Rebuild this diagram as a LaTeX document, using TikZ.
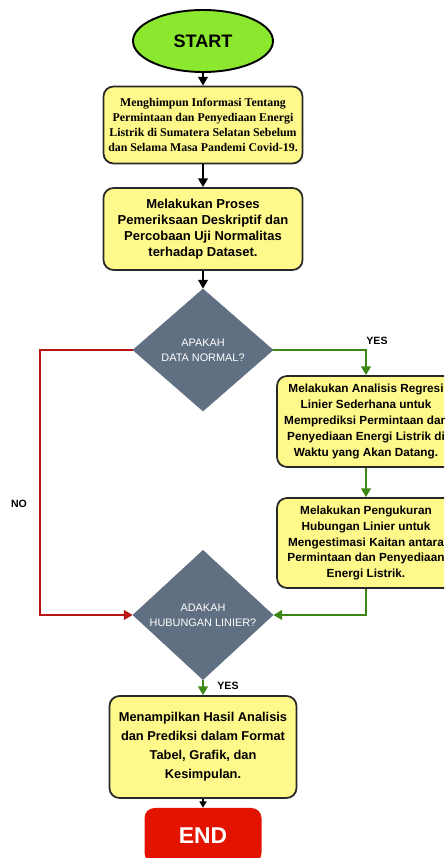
\documentclass[tikz,border=0pt]{standalone}
\usepackage{fontspec}
\setmainfont{Liberation Sans}
\newfontfamily\timesfont{Liberation Serif}
\usetikzlibrary{shapes.geometric,arrows.meta}

\definecolor{startcolor}{RGB}{140,232,46}
\definecolor{boxcolor}{RGB}{255,249,140}
\definecolor{decisioncolor}{RGB}{96,112,130}
\definecolor{endcolor}{RGB}{226,20,0}
\definecolor{yescolor}{RGB}{60,135,20}
\definecolor{nocolor}{RGB}{185,20,20}
\definecolor{bordercolor}{RGB}{40,40,40}

\tikzset{
  stepbox/.style={rectangle,rounded corners=0.2cm,draw=bordercolor,line width=1pt,fill=boxcolor,align=center,inner sep=0pt,font=\bfseries\fontsize{6.7}{9}\selectfont},
  decision/.style={diamond,draw=decisioncolor,fill=decisioncolor,inner sep=0pt,align=center,text=white,font=\fontsize{6.2}{8.6}\selectfont},
  flowline/.style={line width=1.1pt,-{Triangle[length=5pt,width=5.5pt]}},
  answer/.style={font=\bfseries\fontsize{6}{7}\selectfont}
}

\begin{document}
\begin{tikzpicture}
  \useasboundingbox (0,0) rectangle (8.88,17.16);
  \clip (0,0) rectangle (8.88,17.16);
  % Start
  \node at(4.06,16.34)[ellipse,draw=black,line width=1.1pt,fill=startcolor,minimum width=2.8cm,minimum height=1.24cm,font=\bfseries\fontsize{10.3}{12}\selectfont](start){START};
  % Data collection
  \node at(4.06,14.66)[stepbox,minimum width=3.98cm,minimum height=1.54cm,font=\timesfont\bfseries\fontsize{6.75}{8.6}\selectfont](info){Menghimpun Informasi Tentang\\Permintaan dan Penyediaan Energi\\Listrik di Sumatera Selatan Sebelum\\dan Selama Masa Pandemi Covid-19.};
  % Descriptive check
  \node at(4.06,12.58)[stepbox,minimum width=3.98cm,minimum height=1.64cm,font=\bfseries\fontsize{7.4}{9.2}\selectfont](proses){Melakukan Proses\\Pemeriksaan Deskriptif dan\\Percobaan Uji Normalitas\\terhadap Dataset.};
  % First decision
  \node at(4.06,10.16)[decision,minimum width=2.8cm,minimum height=2.44cm](normal){APAKAH\\DATA NORMAL?};
  % Regression and correlation (right)
  \node at(7.32,8.73)[stepbox,minimum width=3.56cm,minimum height=1.82cm](regresi){Melakukan Analisis Regresi\\Linier Sederhana untuk\\Memprediksi Permintaan dan\\Penyediaan Energi Listrik di\\Waktu yang Akan Datang.};
  \node at(7.32,6.30)[stepbox,minimum width=3.56cm,minimum height=1.80cm](pengukuran){Melakukan Pengukuran\\Hubungan Linier untuk\\Mengestimasi Kaitan antara\\Permintaan dan Penyediaan\\Energi Listrik.};
  % Second decision
  \node at(4.06,4.86)[decision,minimum width=2.8cm,minimum height=2.44cm](linier){ADAKAH\\HUBUNGAN LINIER?};
  % Results
  \node at(4.06,2.22)[stepbox,minimum width=3.74cm,minimum height=2.04cm,font=\bfseries\fontsize{7.3}{10.8}\selectfont](hasil){Menampilkan Hasil Analisis\\dan Prediksi dalam Format\\Tabel, Grafik, dan\\Kesimpulan.};
  % End
  \node at(4.06,0.45)[rectangle,rounded corners=0.2cm,fill=endcolor,minimum width=2.34cm,minimum height=1.1cm,text=white,font=\bfseries\fontsize{13}{15}\selectfont](end){END};
  % Arrows
  \draw[flowline] (start) -- (info);
  \draw[flowline] (info) -- (proses);
  \draw[flowline] (proses) -- (normal);
  \draw[flowline,yescolor] (normal.east) -| (regresi.north);
  \draw[flowline,yescolor] (regresi) -- (pengukuran);
  \draw[flowline,yescolor] (pengukuran.south) |- (linier.east);
  \coordinate (nobend) at (0.8,10.16);
  \draw[flowline,nocolor] (normal.west) -- (nobend) |- (linier.west);
  \draw[flowline,yescolor] (linier) -- (hasil);
  \draw[line width=0.8pt,-{Triangle[length=3.5pt,width=4pt]}] (hasil) -- (end);
  % Answers
  \node at(7.54,10.34)[answer](yes1){YES};
  \node at(0.38,7.08)[answer](no1){NO};
  \node at(4.56,3.44)[answer](yes2){YES};
\end{tikzpicture}
\end{document}
